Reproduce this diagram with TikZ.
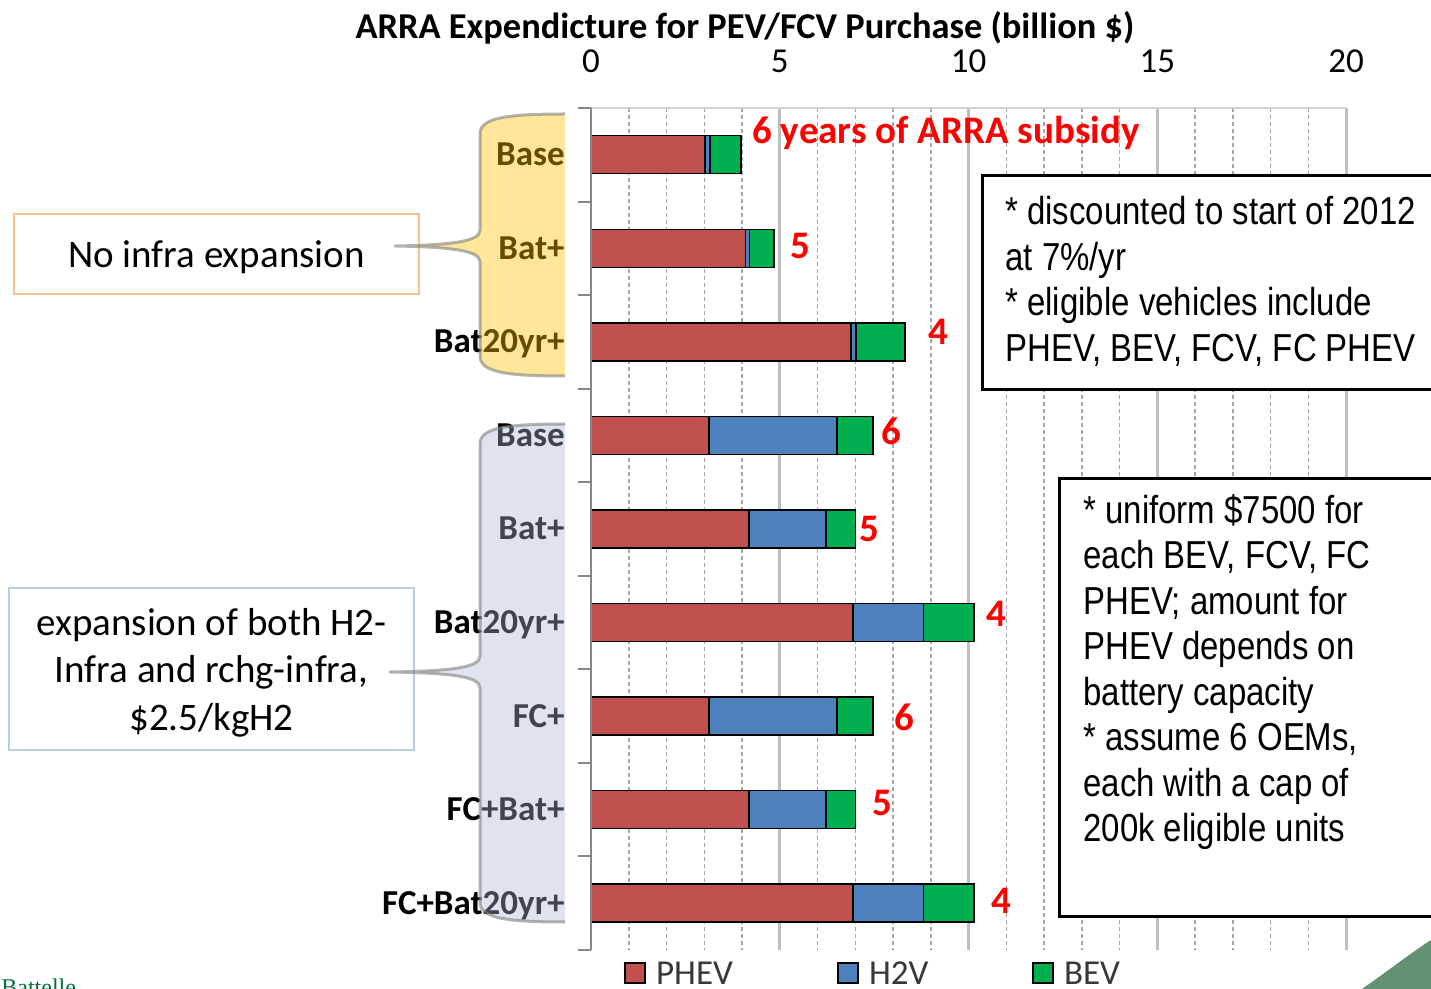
\documentclass[tikz,border=0pt]{standalone}
\usepackage{fontspec}
\setmainfont{Carlito}
\newfontfamily\notefont[FakeStretch=0.845]{Liberation Sans}
\newfontfamily\logofont{Liberation Serif}
\usetikzlibrary{positioning}

\definecolor{phev}{RGB}{192,80,77}
\definecolor{htwov}{RGB}{79,129,189}
\definecolor{bev}{RGB}{0,176,80}
\definecolor{gridgray}{RGB}{165,165,165}
\definecolor{majorgray}{RGB}{190,190,190}
\definecolor{axisgray}{RGB}{134,134,134}
\definecolor{bracegold}{RGB}{255,192,0}
\definecolor{braceblue}{RGB}{168,182,208}
\definecolor{edgeorange}{RGB}{250,192,144}
\definecolor{edgeblue}{RGB}{185,205,229}
\definecolor{subsidyred}{RGB}{255,0,0}
\definecolor{cornergreen}{RGB}{98,145,115}
\definecolor{logogreen}{RGB}{0,112,60}

% left brace from (565,top) round to the tip and back to (565,bottom)
\newcommand{\bracecurve}[4]{(565,#1) .. controls (505,#1) and (480,#1+4) .. (480,#1+20)
  -- (480,#2-16) .. controls (480,#2-5) and (455,#2-1) .. (#4,#2)
  .. controls (455,#2+1) and (480,#2+5) .. (480,#2+16)
  -- (480,#3-20) .. controls (480,#3-4) and (505,#3) .. (565,#3)}

\begin{document}
\begin{tikzpicture}[x=0.5pt, y=-0.5pt,
    catlabel/.style={anchor=base east, inner sep=0pt, font=\fontsize{17.5}{20}\selectfont\bfseries},
    ticklabel/.style={anchor=base, inner sep=0pt, font=\fontsize{17.5}{20}\selectfont},
    countlabel/.style={anchor=base west, inner sep=0pt, text=subsidyred, font=\fontsize{19.5}{23}\selectfont\bfseries},
    segment/.style={draw=black, line width=0.7pt},
    groupbox/.style={line width=1pt, fill=white, align=center, inner sep=0pt, text depth=0pt, minimum width=202.5pt, font=\fontsize{19.5}{23.75}\selectfont},
    notebox/.style={draw=black, line width=1.5pt, fill=white, inner sep=0pt, anchor=north west},
    notetext/.style={anchor=north west, inner sep=0pt, align=left, font=\notefont\fontsize{19.5}{22.75}\selectfont},
    braceedge/.style={draw=gray, draw opacity=0.6, line width=1.5pt, line join=round},
    legendkey/.style={draw=black, line width=0.7pt, minimum size=10pt, inner sep=0pt},
    legendtext/.style={inner sep=0pt, text=black!78, font=\fontsize{17.5}{20}\selectfont}]
    \useasboundingbox (0,0) rectangle (1431,989);

    % Title
    \node[anchor=base, inner sep=0pt, font=\fontsize{18.2}{21}\selectfont\bfseries] (title) at (745,39)
        {ARRA Expendicture for PEV/FCV Purchase (billion \$)};

    % Chart area: one x unit = one billion $
    \begin{scope}[shift={(591,0)}, x=18.875pt]
        % Grid
        \foreach \k in {1,2,3,4,6,7,8,9,11,12,13,14,16,17,18,19}
            \draw[gridgray, line width=0.75pt, dash pattern=on 2pt off 1.5pt] (\k,108) -- (\k,950);
        \foreach \k in {5,10,15,20}
            \draw[majorgray, line width=1.5pt] (\k,108) -- (\k,950);
        \draw[majorgray!70, line width=0.75pt] (0,108) -- (20,108);
        \foreach \k in {0,5,10,15,20}
            \node[ticklabel] (tick\k) at (\k,73) {\k};

        % Stacked bars: PHEV / H2V / BEV end points
        \foreach \row/\p/\h/\b in {1/3.02/3.15/3.97, 2/4.09/4.20/4.85, 3/6.89/7.02/8.32,
                                   4/3.13/6.52/7.47, 5/4.19/6.23/7.00, 6/6.94/8.80/10.15,
                                   7/3.13/6.52/7.47, 8/4.19/6.23/7.00, 9/6.94/8.80/10.15} {
            \pgfmathsetmacro\yc{108+93.55*(\row-0.5)}
            \draw[segment, fill=phev] (0,\yc-19) rectangle (\p,\yc+19);
            \draw[segment, fill=htwov] (\p,\yc-19) rectangle (\h,\yc+19);
            \draw[segment, fill=bev] (\h,\yc-19) rectangle (\b,\yc+19);
        }

        % Category axis
        \draw[axisgray, line width=1pt] (0,108) -- (0,950);
        \foreach \k in {0,...,9}
            \draw[axisgray, line width=1pt] (-0.345,{108+93.55*\k}) -- (0,{108+93.55*\k});
    \end{scope}

    % Years of subsidy
    \foreach \n/\lx/\ly/\lab in {1/752/144/{6 years of ARRA subsidy}, 2/790/259/5, 3/928/345/4,
                                 4/881/445/6, 5/859/542/5, 6/986/626/4,
                                 7/894/730/6, 8/872/815/5, 9/991/913/4}
        \node[countlabel] (count\n) at (\lx,\ly) {\lab};

    % Scenario names
    \foreach \row/\lab in {1/Base, 2/Bat+, 3/Bat20yr+, 4/Base, 5/Bat+, 6/Bat20yr+,
                           7/FC+, 8/FC+Bat+, 9/FC+Bat20yr+}
        \node[catlabel] (cat\row) at (565,{108+93.55*(\row-0.5)+11}) {\lab};

    % Group boxes
    \node[groupbox, draw=edgeorange, minimum height=40pt] (noinfra) at (216.5,254) {No infra expansion};
    \node[groupbox, draw=edgeblue, minimum height=81pt] (bothinfra) at (211.5,669)
        {expansion of both H2-\\Infra and rchg-infra,\\\$2.5/kgH2};

    % Braces laid over the names
    \fill[bracegold, fill opacity=0.4] \bracecurve{114}{246}{376}{395} -- cycle;
    \draw[braceedge] \bracecurve{114}{246}{376}{395};
    \fill[braceblue, fill opacity=0.38] \bracecurve{424}{672}{922}{390} -- cycle;
    \draw[braceedge] \bracecurve{424}{672}{922}{390};

    % Notes
    \node[notebox, minimum width=229.5pt, minimum height=107pt] (discountnote) at (981,174) {};
    \node[notetext] (discounttext) at ([shift={(24,22)}]discountnote.north west)
        {* discounted to start of 2012\\at 7\%/yr\\* eligible vehicles include\\PHEV, BEV, FCV, FC PHEV};
    \node[notebox, minimum width=191pt, minimum height=219pt] (oemnote) at (1058,477) {};
    \node[notetext] (oemtext) at ([shift={(25,17)}]oemnote.north west)
        {* uniform \$7500 for\\each BEV, FCV, FC\\PHEV; amount for\\PHEV depends on\\battery capacity\\%
         * assume 6 OEMs,\\each with a cap of\\200k eligible units};

    % Legend
    \node[legendkey, fill=phev] (keyphev) at (635,973) {};
    \node[legendtext, right=5pt of keyphev] (txtphev) {PHEV};
    \node[legendkey, fill=htwov] (keyh2v) at (848,973) {};
    \node[legendtext, right=5pt of keyh2v] (txth2v) {H2V};
    \node[legendkey, fill=bev] (keybev) at (1043,973) {};
    \node[legendtext, right=5pt of keybev] (txtbev) {BEV};

    % Corner mark and logo
    \fill[cornergreen] (1362,989) .. controls (1392,968) and (1412,952) .. (1431,940) -- (1431,989) -- cycle;
    \node[anchor=base west, inner sep=0pt, text=logogreen, font=\logofont\fontsize{12}{14}\selectfont] (logo)
        at (1,995) {Battelle};
\end{tikzpicture}
\end{document}
